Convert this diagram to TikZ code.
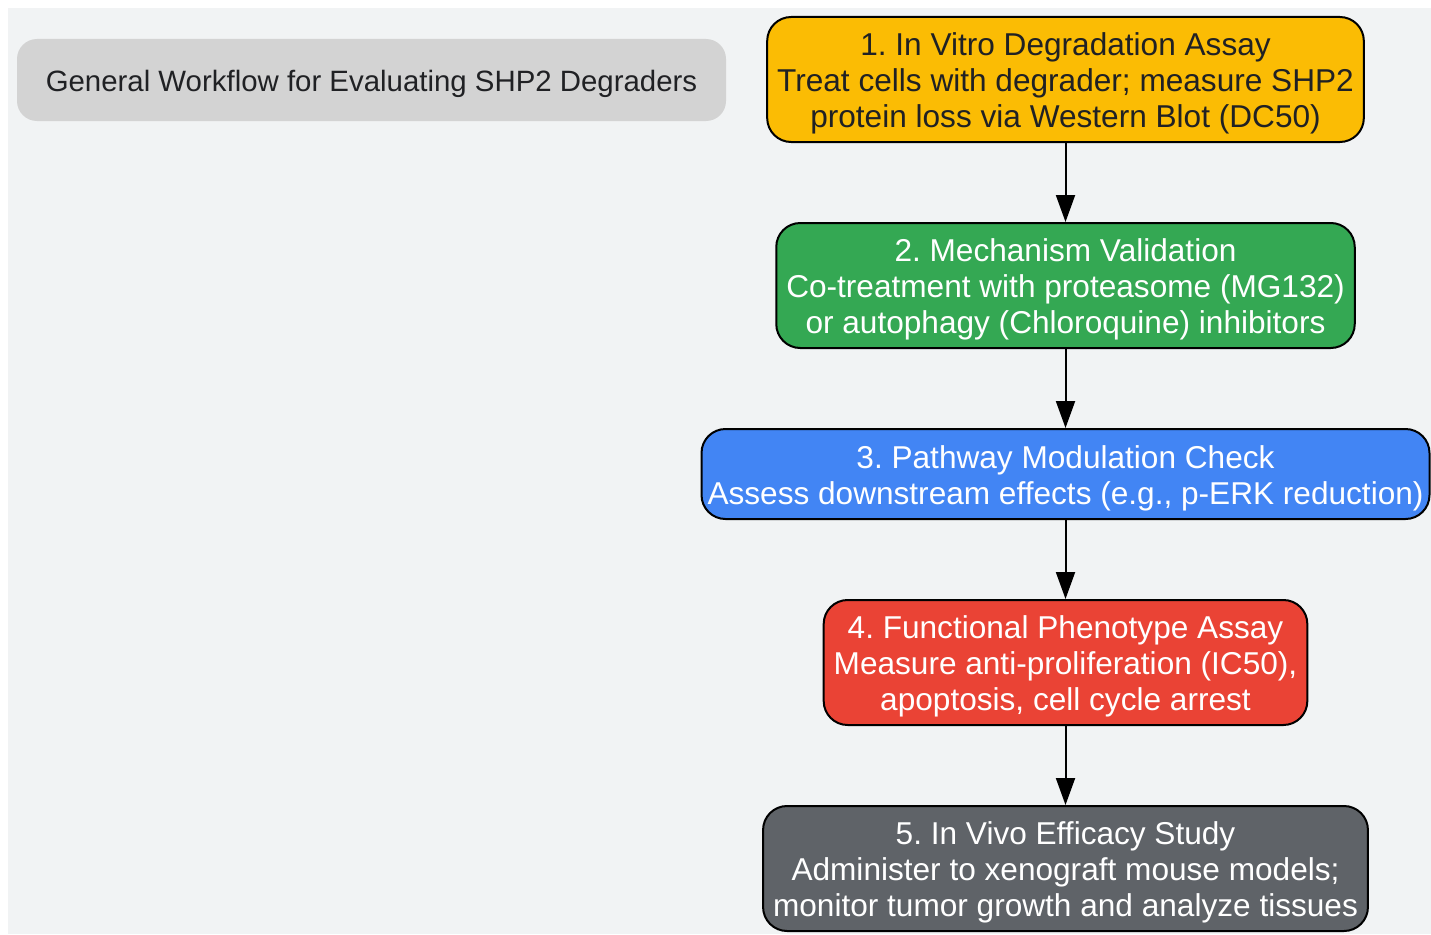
\documentclass[tikz,border=0pt]{standalone}
\usepackage{fontspec}
\setmainfont{Liberation Sans}
\frenchspacing
\usetikzlibrary{positioning, arrows.meta}
\definecolor{bggray}{HTML}{F1F3F4}
\definecolor{titlegray}{HTML}{D3D3D3}
\definecolor{inktext}{HTML}{202124}
\definecolor{gyellow}{HTML}{FBBC04}
\definecolor{ggreen}{HTML}{34A853}
\definecolor{gblue}{HTML}{4285F4}
\definecolor{gred}{HTML}{EA4335}
\definecolor{ggray}{HTML}{5F6368}
\newcommand{\hdstrut}{\rule{0pt}{31pt}}
\tikzstyle{titlebox} = [rectangle, rounded corners=20pt, minimum width=709pt, minimum height=82pt, inner ysep=0pt, text centered, fill=titlegray, text=inktext, font=\fontsize{29.4}{36}\selectfont, execute at begin node={\rule{0pt}{30pt}}]
\tikzstyle{stage} = [rectangle, rounded corners=24pt, minimum height=125pt, inner xsep=10pt, inner ysep=0pt, align=center, draw=black, line width=2pt, text=white, font=\fontsize{31.6}{36}\selectfont]
\tikzstyle{arrow} = [line width=2pt, -{Stealth[length=27pt, width=19pt, inset=0pt]}]

\begin{document}
\begin{tikzpicture}[x=1pt, y=-1pt, node distance=79pt]
		\useasboundingbox (0,0) rectangle (1431,934);
		\fill[bggray] (8,8) rectangle (1431,934);
		\node (title) [titlebox] at (371.5,80) {General Workflow for Evaluating SHP2 Degraders};
		\node (invitro) [stage, fill=gyellow, text=inktext] at (1065.5,79.5) {\hdstrut 1. In Vitro Degradation Assay\\Treat cells with degrader; measure SHP2\\protein loss via Western Blot (DC50)};
		\node (mechanism) [stage, fill=ggreen, below = of invitro] {\hdstrut 2. Mechanism Validation\\Co-treatment with proteasome (MG132)\\or autophagy (Chloroquine) inhibitors};
		\node (pathway) [stage, fill=gblue, minimum height=90pt, inner xsep=6pt, below = of mechanism] {\hdstrut 3. Pathway Modulation Check\\Assess downstream effects (e.g., p-ERK reduction)};
		\node (phenotype) [stage, fill=gred, below = of pathway] {\hdstrut 4. Functional Phenotype Assay\\Measure anti-proliferation (IC50),\\apoptosis, cell cycle arrest};
		\node (invivo) [stage, fill=ggray, below = of phenotype] {\hdstrut 5. In Vivo Efficacy Study\\Administer to xenograft mouse models;\\monitor tumor growth and analyze tissues};
		\draw [arrow] (invitro) -- (mechanism);
		\draw [arrow] (mechanism) -- (pathway);
		\draw [arrow] (pathway) -- (phenotype);
		\draw [arrow] (phenotype) -- (invivo);
	\end{tikzpicture}
\end{document}
